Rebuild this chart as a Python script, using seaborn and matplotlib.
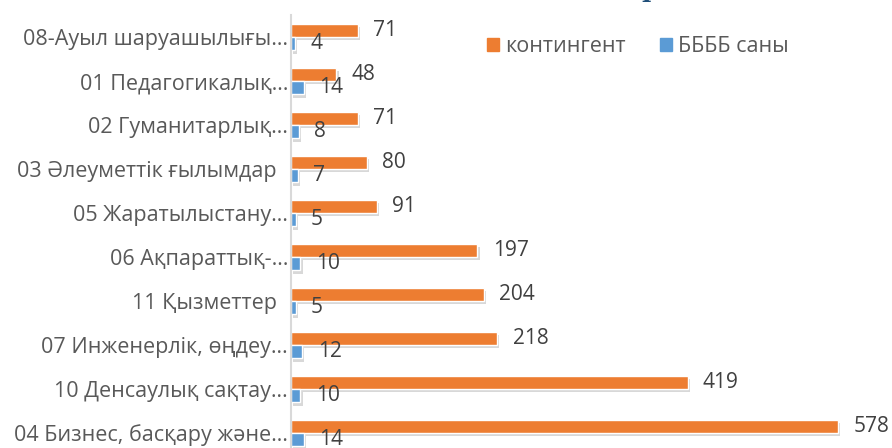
import numpy as np
import pandas as pd
import seaborn as sns
import matplotlib.pyplot as plt
import matplotlib.patheffects as pe
from matplotlib.patches import Patch

categories = [
    "08-Ауыл шаруашылығы…",
    "01 Педагогикалық…",
    "02 Гуманитарлық…",
    "03 Әлеуметтік ғылымдар  ",
    "05 Жаратылыстану…",
    "06 Ақпараттық-…",
    "11 Қызметтер  ",
    "07 Инженерлік, өңдеу…",
    "10 Денсаулық сақтау…",
    "04 Бизнес, басқару және…",
]
contingent = [71, 48, 71, 80, 91, 197, 204, 218, 419, 578]
bbbb = [4, 14, 8, 7, 5, 10, 5, 12, 10, 14]
series_names = ["контингент", "ББББ саны"]

ORANGE = "#ED7D31"
BLUE = "#5B9BD5"
TEXT_COLOR = "#595959"
FONT = ["Open Sans", "DejaVu Sans"]


def main():
    df = pd.DataFrame({
        "cat": categories * 2,
        "value": contingent + bbbb,
        "series": [series_names[0]] * len(categories) + [series_names[1]] * len(categories),
    })

    sns.set_style("white")
    plt.rcParams["font.family"] = FONT

    fig = plt.figure(figsize=(8.92, 4.48), dpi=100)
    ax = fig.add_axes([291 / 892, (448 - 455) / 448, 1 - 291 / 892, 440 / 448])

    sns.barplot(data=df, y="cat", x="value", hue="series", hue_order=series_names,
                palette=[ORANGE, BLUE], orient="h", width=0.6, gap=0, legend=False,
                saturation=1, ax=ax)

    shadow = [pe.SimplePatchShadow(offset=(1.5, -2.5), shadow_rgbFace="#7F7F7F", alpha=0.3), pe.Normal()]
    for bar in ax.patches:
        bar.set_path_effects(shadow)

    for cont in ax.containers:
        ax.bar_label(cont, fmt="%d", padding=11, fontsize=15, color="#404040")

    ax.set_xlim(0, 635)
    ax.set_ylim(9.5, -0.5)
    ax.set_xlabel("")
    ax.set_ylabel("")
    ax.set_xticks([])
    ax.tick_params(axis="y", length=0, pad=2, labelsize=15.5, labelcolor=TEXT_COLOR)
    for s in ["top", "right", "bottom"]:
        ax.spines[s].set_visible(False)
    ax.spines["left"].set_color("#D9D9D9")
    ax.spines["left"].set_linewidth(1.5)

    handles = [Patch(color=ORANGE), Patch(color=BLUE)]
    ax.legend(handles, series_names, loc="center left", bbox_to_anchor=(476 / 892, 1 - 47 / 448),
              bbox_transform=fig.transFigure, ncol=2, frameon=False, handlelength=0.55,
              handleheight=0.55, handletextpad=0.3, columnspacing=1.6, borderpad=0,
              prop={"family": FONT, "size": 15.5}, labelcolor=TEXT_COLOR)

    # title is cut off by the top edge, only a descender shows
    fig.text(641 / 892, 1.0 + 3 / 448, "р", fontsize=18, fontweight="bold", color="#1F4E79",
             family="DejaVu Serif", ha="left", va="baseline")

    fig.savefig("out.png", dpi=100)


if __name__ == "__main__":
    main()
